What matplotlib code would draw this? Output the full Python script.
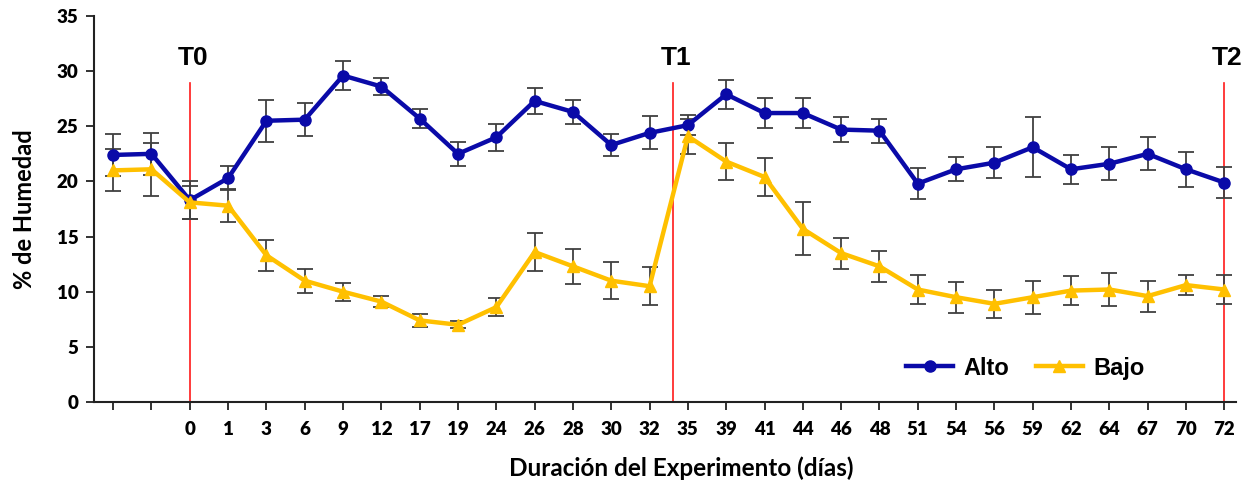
import numpy as np
import matplotlib.pyplot as plt

# categorias del eje x (las dos primeras sin etiqueta)
dias = ['', '', '0', '1', '3', '6', '9', '12', '17', '19', '24', '26', '28', '30', '32',
        '35', '39', '41', '44', '46', '48', '51', '54', '56', '59', '62', '64', '67', '70', '72']

alto = [22.4, 22.5, 18.3, 20.3, 25.5, 25.6, 29.6, 28.6, 25.7, 22.5, 24.0, 27.3, 26.3, 23.3, 24.4,
        25.1, 27.9, 26.2, 26.2, 24.7, 24.6, 19.8, 21.1, 21.7, 23.1, 21.1, 21.6, 22.5, 21.1, 19.9]
alto_err = [1.9, 1.9, 1.7, 1.1, 1.9, 1.5, 1.3, 0.8, 0.9, 1.1, 1.2, 1.2, 1.1, 1.0, 1.5,
            0.9, 1.3, 1.4, 1.4, 1.1, 1.1, 1.4, 1.1, 1.4, 2.7, 1.3, 1.5, 1.5, 1.6, 1.4]

bajo = [21.0, 21.1, 18.1, 17.8, 13.3, 11.0, 10.0, 9.1, 7.4, 7.0, 8.6, 13.6, 12.3, 11.0, 10.5,
        24.1, 21.8, 20.4, 15.7, 13.5, 12.3, 10.2, 9.5, 8.9, 9.5, 10.1, 10.2, 9.6, 10.6, 10.2]
bajo_err = [1.9, 2.4, 1.5, 1.5, 1.4, 1.1, 0.8, 0.5, 0.6, 0.3, 0.8, 1.7, 1.6, 1.7, 1.7,
            1.6, 1.7, 1.7, 2.4, 1.4, 1.4, 1.3, 1.4, 1.3, 1.5, 1.3, 1.5, 1.4, 0.9, 1.3]

# tiempos de muestreo (posicion en el eje categorico)
tiempos = {'T0': 2, 'T1': 14.62, 'T2': 29}

x = np.arange(len(dias))

fig = plt.figure(figsize=(12.47, 4.8), dpi=100)
ax = fig.add_axes([0.0754, 0.1625, 0.9156, 0.8042])

for nombre, pos in tiempos.items():
    ax.plot([pos, pos], [0, 28.9], color='#ff1a1a', lw=1.2, zorder=1)
    ax.text(pos + 0.08, 31.2, nombre, ha='center', va='center', fontsize=19,
            fontweight='bold', family='Liberation Sans')

ax.errorbar(x, alto, yerr=alto_err, fmt='none', ecolor='#404040', elinewidth=1.3,
            capsize=6, capthick=1.3, zorder=2)
ax.errorbar(x, bajo, yerr=bajo_err, fmt='none', ecolor='#404040', elinewidth=1.3,
            capsize=6, capthick=1.3, zorder=2)
ax.plot(x, alto, color='#0a0aa8', lw=3.2, marker='o', ms=8, label='Alto', zorder=3)
ax.plot(x, bajo, color='#ffc000', lw=3.2, marker='^', ms=8, label='Bajo', zorder=3)

ax.set_xlim(-0.5, 29.3)
ax.set_ylim(0, 35)
ax.set_yticks(range(0, 36, 5))
ax.set_xticks(x)
ax.set_xticklabels(dias)

for s in ['top', 'right']:
    ax.spines[s].set_visible(False)
for s in ['left', 'bottom']:
    ax.spines[s].set_linewidth(1.5)
    ax.spines[s].set_color('#222222')
ax.tick_params(axis='both', direction='out', length=6, width=1.3, color='#222222',
               labelsize=13.5)
ax.tick_params(axis='x', pad=8)
ax.tick_params(axis='y', pad=5)
for lab in ax.get_xticklabels() + ax.get_yticklabels():
    lab.set_fontweight('heavy')
    lab.set_family('Lato')

ax.set_xlabel('Duración del Experimento (días)', fontsize=17.5, fontweight='bold',
              family='Lato', labelpad=6)
ax.xaxis.set_label_coords(0.514, -0.14)
ax.set_ylabel('% de Humedad', fontsize=17, fontweight='bold', family='Lato', labelpad=15)

ax.legend(loc='center', bbox_to_anchor=(0.8157, 0.088), ncol=2, frameon=False,
          handlelength=2.0, handletextpad=0.45, columnspacing=1.1,
          prop={'family': 'Liberation Sans', 'weight': 'bold', 'size': 17})

fig.savefig('out.png', dpi=100)
